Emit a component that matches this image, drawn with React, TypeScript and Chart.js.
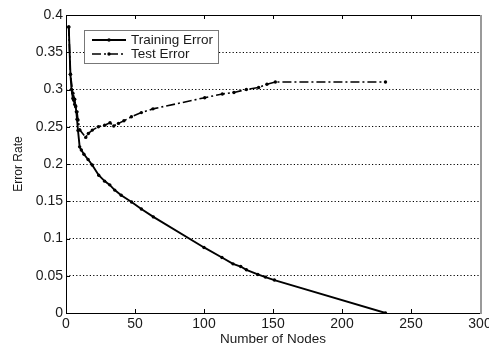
import React, { useEffect, useRef } from "react";
import { Chart, registerables } from "chart.js";

Chart.register(...registerables);

const seriesNames = ["Training Error", "Test Error"];
const xTitle = "Number of Nodes";
const yTitle = "Error Rate";

const trainX = [2, 3.2, 4, 5, 5.6, 6.3, 7, 7.5, 8, 8.7, 9.9, 11.1, 13, 16, 19, 23.7, 28, 31.7, 35.3, 40, 47.5, 54.6, 63.3, 100, 113, 121, 126.6, 130.7, 139, 144.5, 151, 231.5];
const trainY = [0.384, 0.3206, 0.3, 0.288, 0.2857, 0.28, 0.2767, 0.27, 0.26, 0.245, 0.223, 0.2187, 0.213, 0.206, 0.1986, 0.185, 0.177, 0.172, 0.165, 0.158, 0.149, 0.1395, 0.129, 0.088, 0.0745, 0.066, 0.0624, 0.058, 0.0517, 0.0482, 0.0442, 0];

const testX = [2, 3.2, 5, 6.3, 7, 8, 8.7, 10.1, 14.3, 16.2, 19.1, 23.5, 28, 31.9, 34.6, 38, 42, 47.4, 54.6, 63, 100.5, 113.3, 121.7, 130.7, 139.6, 145.6, 151.7, 231.5];
const testY = [0.384, 0.3206, 0.295, 0.287, 0.278, 0.27, 0.259, 0.2455, 0.2357, 0.241, 0.2455, 0.25, 0.252, 0.2553, 0.251, 0.2545, 0.258, 0.2634, 0.269, 0.274, 0.289, 0.294, 0.296, 0.3, 0.3027, 0.307, 0.31, 0.31];

const xTickValues = [0, 50, 100, 150, 200, 250, 300];
const xTickLabels = ["0", "50", "100", "150", "200", "250", "300"];
const yTickValues = [0, 0.05, 0.1, 0.15, 0.2, 0.25, 0.3, 0.35, 0.4];
const yTickLabels = ["0", "0.05", "0.1", "0.15", "0.2", "0.25", "0.3", "0.35", "0.4"];

const FONT = "'Liberation Sans', Arial, Helvetica, sans-serif";
const TEXT = "#1a1a1a";

const framePlugin = {
  id: "frame",
  beforeDatasetsDraw(chart: any) {
    const { ctx, chartArea } = chart;
    const { left, right, top, bottom } = chartArea;
    const xs = chart.scales.x;
    const ys = chart.scales.y;
    ctx.save();
    ctx.setLineDash([]);
    ctx.strokeStyle = "#000";
    ctx.lineWidth = 1;
    const line = (x1: number, y1: number, x2: number, y2: number) => {
      ctx.beginPath();
      ctx.moveTo(x1, y1);
      ctx.lineTo(x2, y2);
      ctx.stroke();
    };
    line(left + 0.5, top, left + 0.5, bottom + 1);
    line(left, bottom + 0.5, right, bottom + 0.5);
    line(left, top + 0.5, right, top + 0.5);
    xTickValues.forEach((v) => {
      if (v === xs.min || v === xs.max) return;
      const px = Math.round(xs.getPixelForValue(v)) + 0.5;
      line(px, top, px, top + 4);
      line(px, bottom, px, bottom - 4);
    });
    yTickValues.forEach((v) => {
      if (v === ys.min || v === ys.max) return;
      const py = Math.round(ys.getPixelForValue(v)) + 0.5;
      line(left, py, left + 4, py);
    });
    ctx.strokeStyle = "#9a9a9a";
    ctx.lineWidth = 2;
    line(right + 1, top, right + 1, bottom + 1);
    ctx.restore();
  },
};

const legendPlugin = {
  id: "boxLegend",
  afterDraw(chart: any) {
    const { ctx } = chart;
    const bx = 84.5, by = 30.5, bw = 134, bh = 33;
    ctx.save();
    ctx.fillStyle = "#fff";
    ctx.fillRect(bx, by, bw, bh);
    ctx.strokeStyle = "#777";
    ctx.lineWidth = 1;
    ctx.strokeRect(bx, by, bw, bh);
    const rows = [40, 54];
    chart.data.datasets.forEach((ds: any, i: number) => {
      const y = rows[i];
      ctx.strokeStyle = ds.borderColor;
      ctx.lineWidth = ds.borderWidth;
      ctx.setLineDash(ds.borderDash || []);
      ctx.beginPath();
      ctx.moveTo(92, y);
      ctx.lineTo(126, y);
      ctx.stroke();
      ctx.setLineDash([]);
      ctx.fillStyle = "#000";
      ctx.beginPath();
      ctx.arc(109, y, 1.7, 0, Math.PI * 2);
      ctx.fill();
      ctx.fillStyle = TEXT;
      ctx.font = `13.5px ${FONT}`;
      ctx.textBaseline = "middle";
      ctx.textAlign = "left";
      ctx.fillText(ds.label, 131, y);
    });
    ctx.restore();
  },
};

export default function App() {
  const ref = useRef<HTMLCanvasElement>(null);
  useEffect(() => {
    if (!ref.current) return;
    const chart = new Chart(ref.current, {
      type: "line",
      data: {
        datasets: [
          {
            label: seriesNames[0],
            data: trainX.map((x, i) => ({ x, y: trainY[i] })),
            borderColor: "#000",
            backgroundColor: "#000",
            borderWidth: 1.9,
            pointRadius: 1.7,
            pointBorderWidth: 0,
            pointBackgroundColor: "#000",
            tension: 0,
            fill: false,
          },
          {
            label: seriesNames[1],
            data: testX.map((x, i) => ({ x, y: testY[i] })),
            borderColor: "#000",
            backgroundColor: "#000",
            borderWidth: 1.6,
            borderDash: [9, 3, 2, 3],
            pointRadius: 1.7,
            pointBorderWidth: 0,
            pointBackgroundColor: "#000",
            tension: 0,
            fill: false,
          },
        ],
      },
      options: {
        responsive: false,
        animation: false,
        devicePixelRatio: 1,
        layout: { padding: { top: 15, right: 9, left: 0, bottom: 0 } },
        plugins: { legend: { display: false }, tooltip: { enabled: false } },
        scales: {
          x: {
            type: "linear",
            min: 0,
            max: 300,
            afterBuildTicks: (s: any) => {
              s.ticks = xTickValues.map((v) => ({ value: v }));
            },
            afterFit: (s: any) => {
              s.height = 36;
              s.paddingLeft = 0;
              s.paddingRight = 0;
            },
            ticks: {
              autoSkip: false,
              maxRotation: 0,
              padding: 3,
              color: TEXT,
              font: { family: FONT, size: 14 },
              callback: (_v: any, i: number) => xTickLabels[i],
            },
            grid: { display: false, drawTicks: false },
            border: { display: false },
            title: {
              display: true,
              text: xTitle,
              color: TEXT,
              font: { family: FONT, size: 13.5 },
              padding: { top: 0, bottom: 2 },
            },
          },
          y: {
            type: "linear",
            min: 0,
            max: 0.4,
            afterBuildTicks: (s: any) => {
              s.ticks = yTickValues.map((v) => ({ value: v }));
            },
            afterFit: (s: any) => {
              s.width = 66;
              s.paddingTop = 0;
              s.paddingBottom = 0;
            },
            ticks: {
              autoSkip: false,
              padding: 3,
              color: TEXT,
              font: { family: FONT, size: 14 },
              callback: (_v: any, i: number) => yTickLabels[i],
            },
            grid: {
              drawTicks: false,
              lineWidth: 1,
              color: (c: any) =>
                c.tick && (c.tick.value === 0 || c.tick.value === 0.4) ? "rgba(0,0,0,0)" : "#000",
              borderDash: [1.2, 2.2],
            } as any,
            border: { display: false, dash: [1.2, 2.2] },
            title: {
              display: true,
              text: yTitle,
              color: TEXT,
              font: { family: FONT, size: 12 },
              padding: { top: 11, bottom: 0 },
            },
          },
        },
      },
      plugins: [framePlugin, legendPlugin],
    } as any);
    return () => chart.destroy();
  }, []);
  return (
    <div style={{ position: "fixed", left: 0, top: 0, width: 489, height: 349, background: "#fff" }}>
      <canvas ref={ref} width={489} height={349} />
    </div>
  );
}
